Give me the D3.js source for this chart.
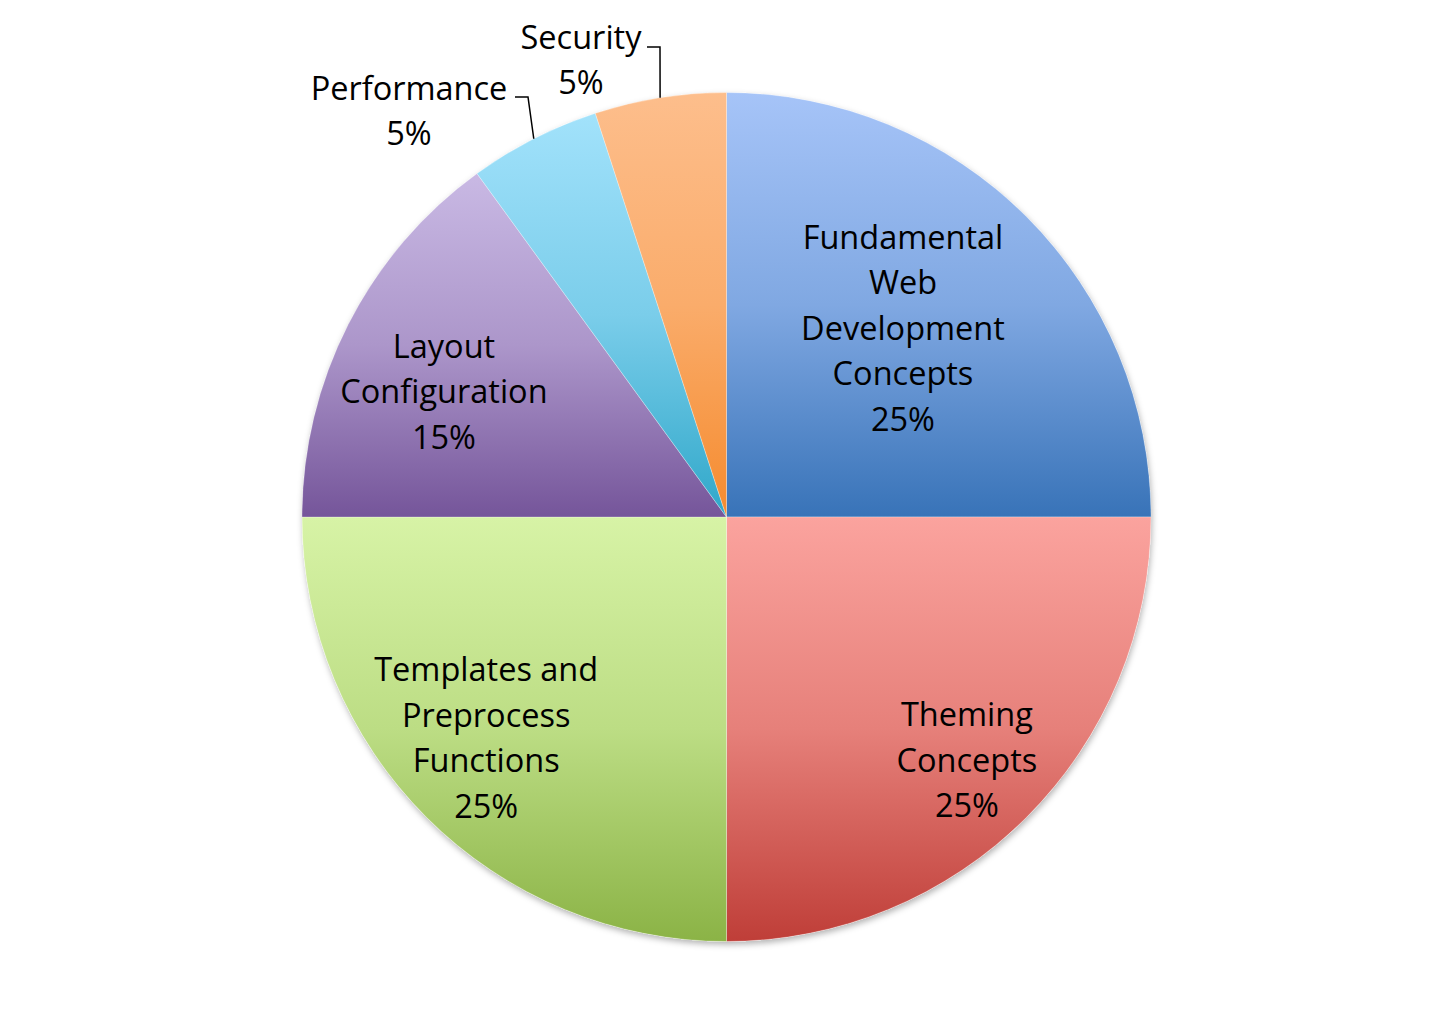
<!DOCTYPE html>
<html><head><meta charset="utf-8">
<script src="https://cdn.jsdelivr.net/npm/d3@7"></script>
<style>html,body{margin:0;padding:0;background:#fff;}svg{display:block;}</style>
</head><body>
<svg id="chart" width="1454" height="1033"></svg>
<script>
// ---- data ----
const categories = ["Fundamental Web Development Concepts", "Theming Concepts", "Templates and Preprocess Functions", "Layout Configuration", "Performance", "Security"];
const labelLines = [["Fundamental","Web","Development","Concepts"], ["Theming","Concepts"], ["Templates and","Preprocess","Functions"], ["Layout","Configuration"], ["Performance"], ["Security"]];
const values = [25, 25, 25, 15, 5, 5];
const colorsTop = ["#a6c4f8", "#fba39e", "#d7f3a6", "#c9b9e4", "#a2e2fb", "#fdbe8c"];
const colorsBottom = ["#3873b8", "#bf3e38", "#8bb346", "#75559a", "#2fa7c9", "#f58b2e"];

// ---- layout ----
const W = 1454, H = 1033, cx = 726.5, cy = 517, R = 424.5;
const labelRadius = [0.609, 0.805, 0.769, 0.728, null, null];
const labelAngleShift = [-0.034, 0.005, 0.042, -0.054, 0, 0];
const outside = {4: {x: 409, y: 88, elbowX: 528, elbowY: 97, endX: 515}, 5: {x: 581, y: 37, elbowX: 660, elbowY: 47, endX: 647}};
const lineH = 45.5;

const svg = d3.select("#chart");
const defs = svg.append("defs");
const f = defs.append("filter").attr("id","sh").attr("x","-10%").attr("y","-10%").attr("width","120%").attr("height","120%");
f.append("feDropShadow").attr("dx",1).attr("dy",3).attr("stdDeviation",3).attr("flood-color","#000").attr("flood-opacity",0.3);

const total = d3.sum(values);
const pie = d3.pie().sort(null).value(d => d)(values);
const arc = d3.arc().innerRadius(0).outerRadius(R);

pie.forEach((p, i) => {
  const angs = [p.startAngle, p.endAngle];
  for (let k = Math.ceil(p.startAngle/(Math.PI/2)); k*(Math.PI/2) < p.endAngle; k++) angs.push(k*Math.PI/2);
  const ys = angs.map(a => -Math.cos(a)*R).concat([0]);
  const y0 = d3.min(ys), y1 = d3.max(ys);
  const g = defs.append("linearGradient").attr("id","g"+i).attr("gradientUnits","userSpaceOnUse")
    .attr("x1",0).attr("x2",0).attr("y1",y0).attr("y2",y1);
  const mid = d3.interpolateRgb(colorsTop[i], colorsBottom[i]);
  g.append("stop").attr("offset","0").attr("stop-color",colorsTop[i]);
  g.append("stop").attr("offset","0.5").attr("stop-color",mid(0.35));
  g.append("stop").attr("offset","1").attr("stop-color",colorsBottom[i]);
});

const gPie = svg.append("g").attr("transform",`translate(${cx},${cy})`);
gPie.append("circle").attr("r",R).attr("fill","#fff").attr("filter","url(#sh)");
gPie.selectAll("path.slice").data(pie).enter().append("path")
  .attr("class","slice")
  .attr("d", arc)
  .attr("fill", (d,i) => `url(#g${i})`)
  .attr("stroke","rgba(255,255,255,0.35)").attr("stroke-width",0.8);

const font = "'Open Sans', 'Liberation Sans', sans-serif";
const fs = 32.5;

pie.forEach((p, i) => {
  const pct = Math.round(p.value / total * 100) + "%";
  const lines = labelLines[i].concat([pct]);
  let x, yTop;
  if (outside[i]) {
    const o = outside[i];
    x = o.x; yTop = o.y;
    const a = (p.startAngle + p.endAngle)/2;
    const ax = cx + Math.sin(a)*R, ay = cy - Math.cos(a)*R;
    svg.append("path").attr("d", d3.line()([[ax, ay], [o.elbowX, o.elbowY], [o.endX, o.elbowY]]))
      .attr("fill","none").attr("stroke","#000").attr("stroke-width",1.5);
  } else {
    const a = (p.startAngle + p.endAngle)/2 + labelAngleShift[i];
    const r = R * labelRadius[i];
    x = cx + Math.sin(a)*r;
    const yc = cy - Math.cos(a)*r;
    yTop = yc - (lines.length-1)*lineH/2;
  }
  const t = svg.append("text").attr("font-family", font).attr("font-size", fs).attr("fill","#000")
    .attr("text-anchor","middle");
  lines.forEach((ln, k) => {
    t.append("tspan").attr("x", x).attr("y", yTop + k*lineH).attr("dy","0.36em").text(ln);
  });
});
</script>
</body></html>
